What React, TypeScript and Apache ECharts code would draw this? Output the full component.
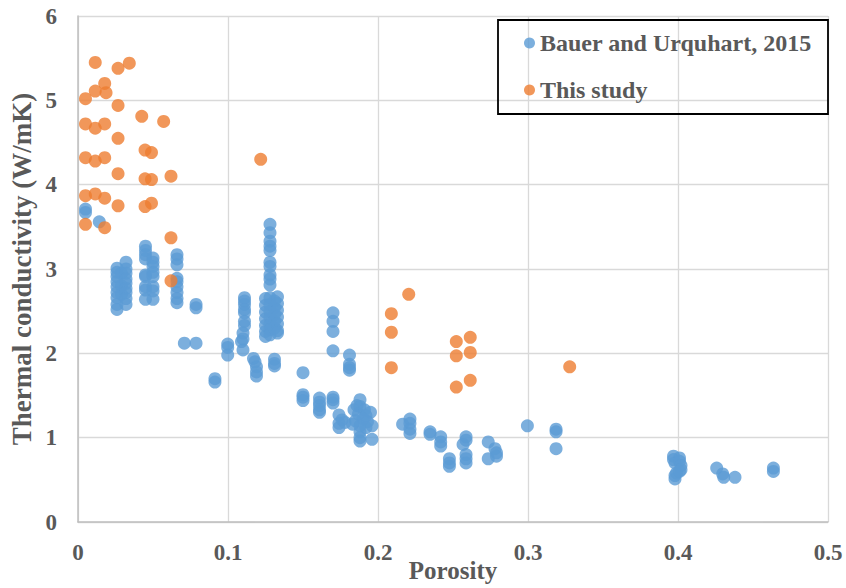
import React, { useEffect, useRef } from "react";
import * as echarts from "echarts";

const xTicks = ["0", "0.1", "0.2", "0.3", "0.4", "0.5"];
const seriesNames = ["Bauer and Urquhart, 2015", "This study"];

const bauerPoints: [number, number][] = [
  [0.005, 3.71], [0.005, 3.67], [0.0142, 3.56],
  [0.026, 3.01], [0.026, 2.96], [0.026, 2.91], [0.026, 2.85], [0.026, 2.79], [0.026, 2.72], [0.026, 2.66], [0.026, 2.58], [0.026, 2.52],
  [0.029, 2.95], [0.029, 2.8], [0.029, 2.7],
  [0.032, 3.08], [0.032, 3.0], [0.032, 2.95], [0.032, 2.88], [0.032, 2.83], [0.032, 2.77], [0.032, 2.72], [0.032, 2.65], [0.032, 2.58],
  [0.045, 3.27], [0.045, 3.22], [0.045, 3.17], [0.045, 3.12], [0.045, 2.93], [0.045, 2.91], [0.045, 2.79], [0.045, 2.75], [0.045, 2.64],
  [0.05, 3.13], [0.05, 3.08], [0.05, 3.03], [0.05, 2.96], [0.05, 2.91], [0.05, 2.79], [0.05, 2.74], [0.05, 2.64],
  [0.066, 3.17], [0.066, 3.12], [0.066, 3.05], [0.066, 2.89], [0.066, 2.85], [0.066, 2.79], [0.066, 2.72], [0.066, 2.65], [0.066, 2.6],
  [0.0787, 2.58], [0.0787, 2.54], [0.0709, 2.12], [0.0787, 2.12],
  [0.0913, 1.7], [0.0913, 1.66],
  [0.0998, 2.11], [0.0998, 2.07], [0.0998, 1.98],
  [0.111, 2.66], [0.111, 2.62], [0.111, 2.58], [0.111, 2.52], [0.111, 2.48], [0.111, 2.38], [0.111, 2.33], [0.11, 2.24], [0.11, 2.17], [0.109, 2.14], [0.11, 2.04],
  [0.117, 1.94], [0.118, 1.9], [0.119, 1.84], [0.119, 1.78], [0.119, 1.73],
  [0.128, 3.53], [0.128, 3.43], [0.128, 3.33], [0.128, 3.27], [0.128, 3.22], [0.128, 3.08], [0.128, 3.03], [0.128, 2.93], [0.128, 2.88], [0.128, 2.81],
  [0.125, 2.65], [0.125, 2.57], [0.125, 2.49], [0.125, 2.41], [0.125, 2.33], [0.125, 2.26], [0.125, 2.2],
  [0.128, 2.66], [0.128, 2.58], [0.128, 2.5], [0.128, 2.42], [0.128, 2.34], [0.128, 2.28], [0.128, 2.22],
  [0.131, 2.62], [0.131, 2.54], [0.131, 2.46], [0.131, 2.38], [0.131, 2.3],
  [0.133, 2.67], [0.133, 2.59], [0.133, 2.51], [0.133, 2.43], [0.133, 2.35], [0.133, 2.27], [0.133, 2.24],
  [0.131, 1.93], [0.131, 1.88], [0.131, 1.85],
  [0.15, 1.77], [0.15, 1.51], [0.15, 1.48], [0.15, 1.44],
  [0.161, 1.47], [0.161, 1.42], [0.161, 1.38], [0.161, 1.33], [0.161, 1.3],
  [0.17, 2.48], [0.17, 2.38], [0.17, 2.26], [0.17, 2.03], [0.17, 1.48], [0.17, 1.45], [0.17, 1.41],
  [0.181, 1.98], [0.181, 1.87], [0.181, 1.83], [0.181, 1.8],
  [0.174, 1.27], [0.176, 1.21], [0.174, 1.17], [0.174, 1.12], [0.178, 1.18],
  [0.184, 1.33], [0.186, 1.38], [0.188, 1.45], [0.188, 1.37], [0.187, 1.28], [0.185, 1.2], [0.188, 1.14], [0.188, 1.07], [0.188, 1.0], [0.188, 0.96],
  [0.191, 1.33], [0.192, 1.26], [0.193, 1.19], [0.192, 1.12], [0.195, 1.3], [0.196, 1.14], [0.196, 0.98], [0.19, 1.22], [0.183, 1.16],
  [0.2164, 1.16], [0.2213, 1.22], [0.2213, 1.17], [0.2213, 1.1], [0.2213, 1.05],
  [0.2347, 1.07], [0.2347, 1.04],
  [0.2418, 1.01], [0.2418, 0.95], [0.2418, 0.9],
  [0.2476, 0.75], [0.2476, 0.7], [0.2476, 0.66],
  [0.2587, 1.01], [0.2587, 0.97], [0.2567, 0.92], [0.2587, 0.8], [0.2587, 0.75], [0.2587, 0.7],
  [0.2735, 0.95], [0.2735, 0.75], [0.278, 0.87], [0.279, 0.82], [0.279, 0.78],
  [0.2996, 1.14],
  [0.3187, 1.1], [0.3187, 1.07], [0.3187, 0.87],
  [0.397, 0.78], [0.397, 0.74], [0.398, 0.7], [0.401, 0.76], [0.401, 0.72], [0.402, 0.67], [0.402, 0.62], [0.399, 0.58], [0.398, 0.55], [0.398, 0.51], [0.401, 0.6],
  [0.4258, 0.64], [0.4298, 0.57], [0.4305, 0.53], [0.438, 0.53],
  [0.4636, 0.64], [0.4636, 0.6],
];

const thisStudyPoints: [number, number][] = [
  [0.0115, 5.45], [0.0267, 5.38], [0.0342, 5.44], [0.0178, 5.2], [0.0115, 5.11], [0.0187, 5.09],
  [0.005, 5.02], [0.0267, 4.94], [0.0425, 4.81], [0.0571, 4.75], [0.005, 4.72], [0.0115, 4.67],
  [0.0178, 4.72], [0.0267, 4.55], [0.0447, 4.41], [0.049, 4.38], [0.005, 4.32], [0.0115, 4.28],
  [0.0178, 4.32], [0.1218, 4.3], [0.0267, 4.13], [0.0447, 4.07], [0.049, 4.06], [0.062, 4.1],
  [0.005, 3.87], [0.0115, 3.89], [0.0178, 3.84], [0.0267, 3.75], [0.0447, 3.74], [0.049, 3.78],
  [0.005, 3.53], [0.0178, 3.49], [0.062, 3.37], [0.062, 2.86],
  [0.2205, 2.7], [0.2089, 2.47], [0.2089, 2.25], [0.2089, 1.83],
  [0.2522, 2.14], [0.2615, 2.19], [0.2522, 1.97], [0.2615, 2.01], [0.2522, 1.6], [0.2615, 1.68],
  [0.3278, 1.84],
];

const FONT = "'Liberation Serif', 'Times New Roman', serif";
const GRAY = "#595959";

export default function App() {
  const ref = useRef<HTMLDivElement>(null);
  useEffect(() => {
    if (!ref.current) return;
    const chart = echarts.init(ref.current, undefined, { renderer: "svg" });
    chart.setOption({
      animation: false,
      backgroundColor: "#ffffff",
      grid: { left: 78, right: 18, top: 16, bottom: 66, containLabel: false, outerBoundsMode: "none" },
      xAxis: {
        type: "value",
        min: 0,
        max: 0.5,
        interval: 0.1,
        name: "Porosity",
        nameLocation: "middle",
        nameGap: 35,
        nameMoveOverlap: false,
        nameTextStyle: { fontFamily: FONT, fontWeight: "bold", fontSize: 25, lineHeight: 26, color: GRAY },
        axisLine: { show: true, lineStyle: { color: "#bfbfbf", width: 1.5 } },
        axisTick: { show: false },
        axisLabel: {
          margin: 19,
          fontFamily: FONT,
          fontWeight: "bold",
          fontSize: 23,
          color: GRAY,
          formatter: (v: number) => xTicks[Math.round(v * 10)] ?? String(v),
        },
        splitLine: { show: true, lineStyle: { color: "#d9d9d9", width: 1.3 } },
      },
      yAxis: {
        type: "value",
        min: 0,
        max: 6,
        interval: 1,
        name: "Thermal conductivity (W/mK)",
        nameLocation: "middle",
        nameGap: 43,
        nameMoveOverlap: false,
        nameTextStyle: { fontFamily: FONT, fontWeight: "bold", fontSize: 27, color: GRAY },
        axisLine: { show: true, lineStyle: { color: "#bfbfbf", width: 1.5 } },
        axisTick: { show: false },
        axisLabel: { margin: 21, fontFamily: FONT, fontWeight: "bold", fontSize: 23, color: GRAY },
        splitLine: { show: true, lineStyle: { color: "#d9d9d9", width: 1.3 } },
      },
      legend: {
        orient: "vertical",
        left: 519,
        top: 26,
        itemWidth: 11,
        itemHeight: 11,
        itemGap: 23,
        icon: "circle",
        data: seriesNames,
        textStyle: { fontFamily: FONT, fontWeight: "bold", fontSize: 24, lineHeight: 24, color: GRAY },
      },
      graphic: [
        {
          type: "rect",
          shape: { x: 498, y: 20, width: 330, height: 94 },
          style: { fill: "none", stroke: "#000000", lineWidth: 1.8 },
          z: 10,
        },
      ],
      series: [
        {
          name: seriesNames[0],
          type: "scatter",
          symbol: "circle",
          symbolSize: 13,
          itemStyle: { color: "#5B9BD5" },
          data: bauerPoints,
        },
        {
          name: seriesNames[1],
          type: "scatter",
          symbol: "circle",
          symbolSize: 13,
          itemStyle: { color: "#ED7D31" },
          data: thisStudyPoints,
        },
      ],
    });
    return () => chart.dispose();
  }, []);
  return (
    <div
      ref={ref}
      style={{ position: "absolute", left: 0, top: 0, width: 846, height: 588 }}
    />
  );
}
